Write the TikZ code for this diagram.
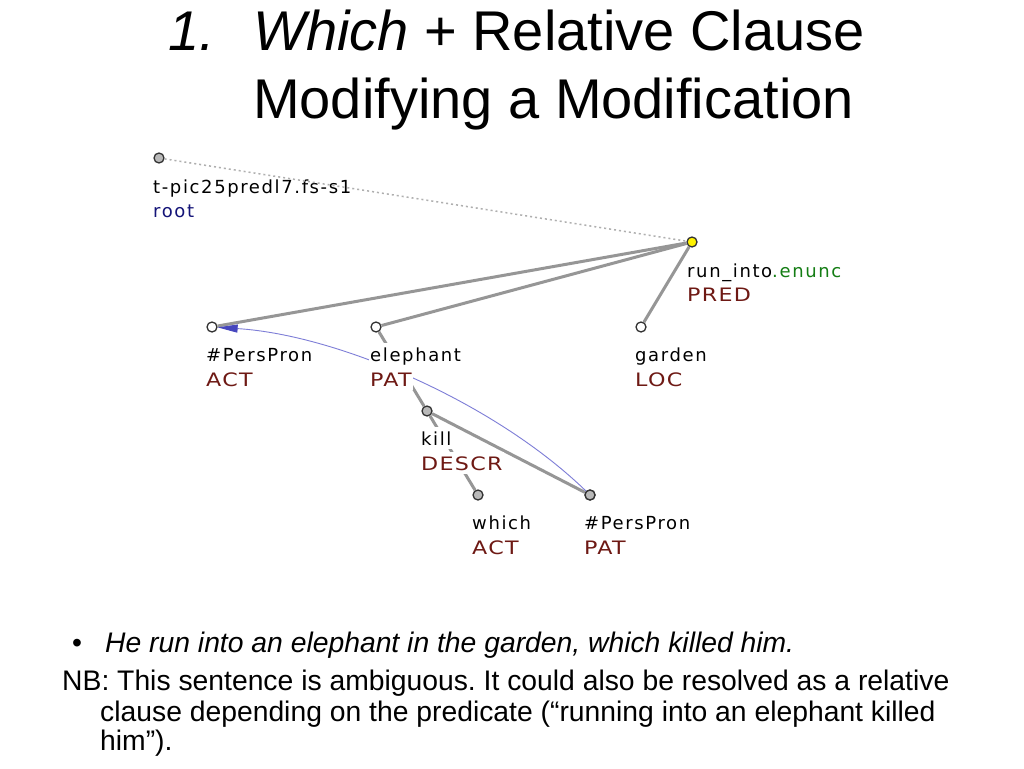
\documentclass[tikz,border=0pt]{standalone}
\usepackage{fontspec}
\setmainfont{Liberation Sans}
\newfontfamily\treefont[LetterSpace=9]{DejaVu Sans}
\newfontfamily\funcfont[FakeStretch=1.2,LetterSpace=7]{DejaVu Sans}
\usetikzlibrary{arrows.meta}
\frenchspacing
\definecolor{edgegrey}{RGB}{150,150,150}
\definecolor{dotgrey}{RGB}{175,175,175}
\definecolor{funcred}{RGB}{110,25,20}
\definecolor{rootblue}{RGB}{20,20,120}
\definecolor{enuncgreen}{RGB}{20,125,20}
\definecolor{corefblue}{RGB}{125,125,215}
\definecolor{arrowblue}{RGB}{70,70,190}
\definecolor{nodegrey}{RGB}{185,185,185}
\tikzset{
  tnode/.style={circle,draw=black!80,line width=1.3pt,fill=white,minimum size=10pt,inner sep=0pt},
  gnode/.style={tnode,fill=nodegrey},
  ynode/.style={tnode,fill=yellow},
  edge/.style={draw=edgegrey,line width=3pt},
  rootedge/.style={draw=dotgrey,line width=1.5pt,dash pattern=on 2pt off 3pt},
  coref/.style={draw=corefblue,line width=0.9pt,-{Triangle[length=20pt,width=8pt,color=arrowblue]}},
  lab/.style={anchor=base west,inner xsep=1pt,inner ysep=4pt,fill=white,font=\treefont\fontsize{18}{20}\selectfont},
  flab/.style={lab,text=funcred,font=\funcfont\fontsize{18.5}{20}\selectfont},
  title/.style={anchor=base west,inner sep=0pt,font=\fontsize{56}{60}\selectfont},
  body/.style={anchor=base west,inner sep=0pt,font=\fontsize{28.3}{32}\selectfont}
}
\begin{document}
\begin{tikzpicture}[x=1pt,y=-1pt]
\useasboundingbox[fill=white] (0,0) rectangle (1024,768);
% title
\node[title] (t1) at (168,51) {\itshape 1.};
\node[title] (t2) at (253,51) {\itshape Which\/\upshape{} + Relative Clause};
\node[title] (t3) at (253,118) {Modifying a Modification};
% tree nodes
\node[gnode] (root) at (159,158) {};
\node[ynode] (run) at (692,242) {};
\node[tnode] (pp1) at (212,327) {};
\node[tnode] (eleph) at (376,327) {};
\node[tnode] (garden) at (641,327) {};
\node[gnode] (kill) at (427,411) {};
\node[gnode] (which) at (478,495) {};
\node[gnode] (pp2) at (590,495) {};
% labels of the root (drawn below its edge)
\node[lab,inner ysep=0pt] (rootl) at (152,193) {t-pic25predl7.fs-s1};
\node[lab,inner ysep=0pt,text=rootblue] (rootf) at (152,217) {root};
% edges
\draw[rootedge] (root) -- (run);
\draw[edge] (run) -- (pp1);
\draw[edge] (run) -- (eleph);
\draw[edge] (run) -- (garden);
\draw[edge] (eleph) -- (kill);
\draw[edge] (kill) -- (which);
\draw[edge] (kill) -- (pp2);
% coreference arrow
\draw[coref] (pp2.center) .. controls (500,405) and (340,335) .. (pp1);
% labels
\node[lab] (runl) at (686,277) {run\_into\textcolor{enuncgreen}{.enunc}};
\node[flab] (runf) at (686,301) {PRED};
\node[lab] (pp1l) at (205,361) {\#PersPron};
\node[flab] (pp1f) at (205,386) {ACT};
\node[lab] (elephl) at (369,361) {elephant};
\node[flab] (elephf) at (369,386) {PAT};
\node[lab] (gardenl) at (634,361) {garden};
\node[flab] (gardenf) at (634,386) {LOC};
\node[lab] (killl) at (420,445) {kill};
\node[flab] (killf) at (420,470) {DESCR};
\node[lab] (whichl) at (471,529) {which};
\node[flab] (whichf) at (471,554) {ACT};
\node[lab] (pp2l) at (583,529) {\#PersPron};
\node[flab] (pp2f) at (583,554) {PAT};
% redraw node on top of the arrow start
\node[gnode] at (pp2) {};
% bottom text
\node[body] (bul) at (72,652) {•};
\node[body] (s1) at (105,652) {\itshape He run into an elephant in the garden, which killed him.};
\node[body] (nb1) at (62,690) {NB: This sentence is ambiguous. It could also be resolved as a relative};
\node[body] (nb2) at (100,721) {clause depending on the predicate (“running into an elephant killed};
\node[body] (nb3) at (100,750) {him”).};
\end{tikzpicture}
\end{document}
